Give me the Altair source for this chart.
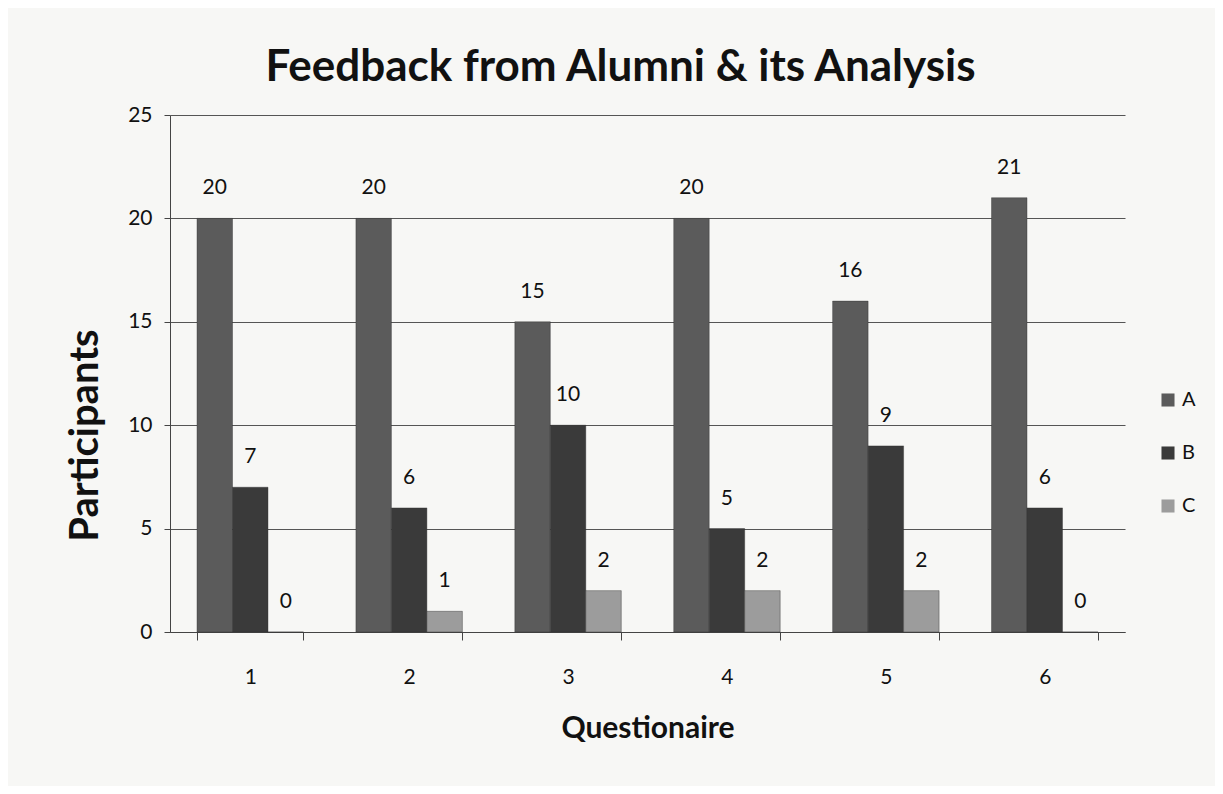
import altair as alt
import pandas as pd

questions = ["1", "2", "3", "4", "5", "6"]
series = ["A", "B", "C"]
values_a = [20, 20, 15, 20, 16, 21]
values_b = [7, 6, 10, 5, 9, 6]
values_c = [0, 1, 2, 2, 2, 0]
colors = ["#5b5b5b", "#3a3a3a", "#9c9c9c"]

rows = []
for s, vals in zip(series, [values_a, values_b, values_c]):
    for q, v in zip(questions, vals):
        rows.append({"Questionaire": q, "Series": s, "Participants": v})
df = pd.DataFrame(rows)

FONT = "Lato"
yscale = alt.Scale(domain=[0, 25], nice=False, zero=True)

x = alt.X(
    "Questionaire:N",
    sort=questions,
    scale=alt.Scale(paddingInner=0.33, paddingOuter=0.17),
    axis=alt.Axis(
        title="Questionaire",
        labelAngle=0,
        labelFontSize=21,
        labelPadding=26,
        labelColor="#111",
        titleFontSize=30,
        titleFontWeight="bold",
        titlePadding=26,
        titleColor="#111",
        tickBand="extent",
        tickSize=8,
        tickColor="#444",
        domainColor="#444",
        grid=False,
    ),
)
y = alt.Y(
    "Participants:Q",
    scale=yscale,
    axis=alt.Axis(
        title="Participants",
        values=[0, 5, 10, 15, 20, 25],
        labelFontSize=21,
        labelPadding=12,
        labelColor="#111",
        titleFontSize=40,
        titleFontWeight="bold",
        titleColor="#111",
        titleX=-85,
        titleY=320,
        titleAngle=-90,
        titleBaseline="middle",
        tickSize=6,
        tickColor="#444",
        domainColor="#444",
        gridColor="#555",
        gridWidth=1.2,
    ),
)

bars = alt.Chart(df).mark_bar(stroke="#2e2e2e", strokeWidth=0.4).encode(
    x=x,
    xOffset=alt.XOffset("Series:N", sort=series),
    y=y,
    color=alt.Color(
        "Series:N",
        sort=series,
        scale=alt.Scale(domain=series, range=colors),
        legend=alt.Legend(
            title=None,
            orient="none",
            legendX=988,
            legendY=275,
            symbolType="square",
            symbolSize=170,
            symbolStrokeWidth=0,
            labelFontSize=20,
            labelColor="#111",
            rowPadding=33,
        ),
    ),
)

labels = alt.Chart(df).mark_text(
    fontSize=21, baseline="bottom", dy=-20, color="#111", font=FONT
).encode(
    x=alt.X("Questionaire:N", sort=questions),
    xOffset=alt.XOffset("Series:N", sort=series),
    y=alt.Y("Participants:Q", scale=yscale),
    text=alt.Text("Participants:Q"),
)

chart = (
    alt.layer(bars, labels)
    .properties(
        width=955,
        height=517,
        title=alt.TitleParams(
            "Feedback from Alumni & its Analysis",
            fontSize=44,
            fontWeight="bold",
            font=FONT,
            color="#111",
            dx=-27,
            offset=14,
        ),
        autosize=alt.AutoSizeParams(type="none"),
        padding={"left": 162, "top": 107, "right": 90, "bottom": 154},
        background="#f7f7f5",
    )
    .configure(font=FONT)
    .configure_view(stroke=None)
    .configure_axis(labelFont=FONT, titleFont=FONT)
    .configure_legend(labelFont=FONT)
)

chart.save("out.html", embed_options={"renderer": "svg", "actions": False})
